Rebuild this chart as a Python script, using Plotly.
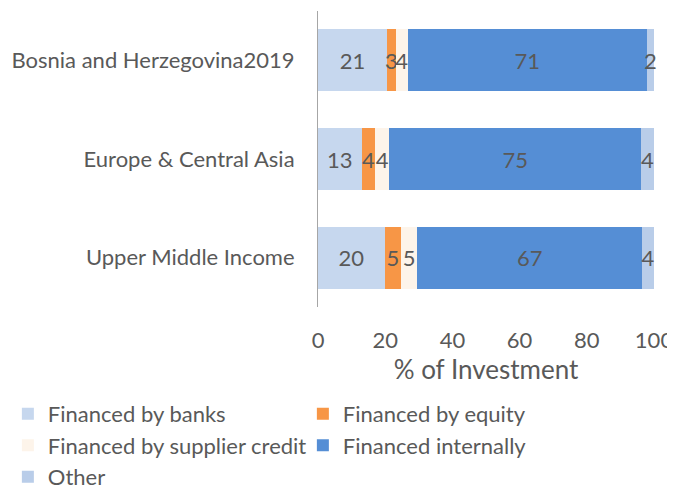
import plotly.graph_objects as go

categories = ["Upper Middle Income", "Europe & Central Asia", "Bosnia and Herzegovina2019"]
series_names = ["Financed by banks", "Financed by equity", "Financed by supplier credit",
                "Financed internally", "Other"]
banks = [19.9, 13.0, 20.5]
equity = [4.7, 4.0, 2.6]
supplier = [5.0, 4.2, 3.6]
internal = [66.8, 75.0, 71.2]
other = [3.6, 3.8, 2.1]
colors = ["#c6d7ee", "#f79646", "#fdf4ea", "#558ed5", "#b9cde9"]

FONT = "Lato"
FS = 22
TXT = "#595959"

fig = go.Figure()
for name, vals, col in zip(series_names, [banks, equity, supplier, internal, other], colors):
    fig.add_trace(go.Bar(
        y=categories, x=vals, name=name, orientation="h",
        marker=dict(color=col, line=dict(width=0)),
        text=vals, texttemplate="%{x:.0f}", textposition="inside",
        insidetextanchor="middle", constraintext="none",
        textfont=dict(family=FONT, size=FS, color=TXT),
        cliponaxis=False,
    ))

fig.update_layout(
    barmode="stack", bargap=0.37,
    width=667, height=478,
    margin=dict(l=310, r=21, t=3, b=179, autoexpand=False),
    plot_bgcolor="white", paper_bgcolor="white",
    font=dict(family=FONT, size=FS, color=TXT),
    xaxis=dict(range=[0, 100], dtick=20, showgrid=False, zeroline=False, showline=False,
               ticks="", ticklabelstandoff=18, title=dict(text="% of Investment", standoff=2),
               tickfont=dict(size=FS, color=TXT), automargin=False),
    yaxis=dict(showgrid=False, showline=True, linecolor="#a6a6a6", linewidth=1,
               ticks="", ticklabelstandoff=18, tickfont=dict(size=FS, color=TXT),
               automargin=False),
    legend=dict(orientation="h", x=-0.923, xanchor="left", y=-0.29, yanchor="top",
                entrywidth=250, entrywidthmode="pixels", traceorder="normal",
                font=dict(size=FS, color=TXT), itemwidth=30, tracegroupgap=0),
    showlegend=True,
)
fig.write_html("out.html")
